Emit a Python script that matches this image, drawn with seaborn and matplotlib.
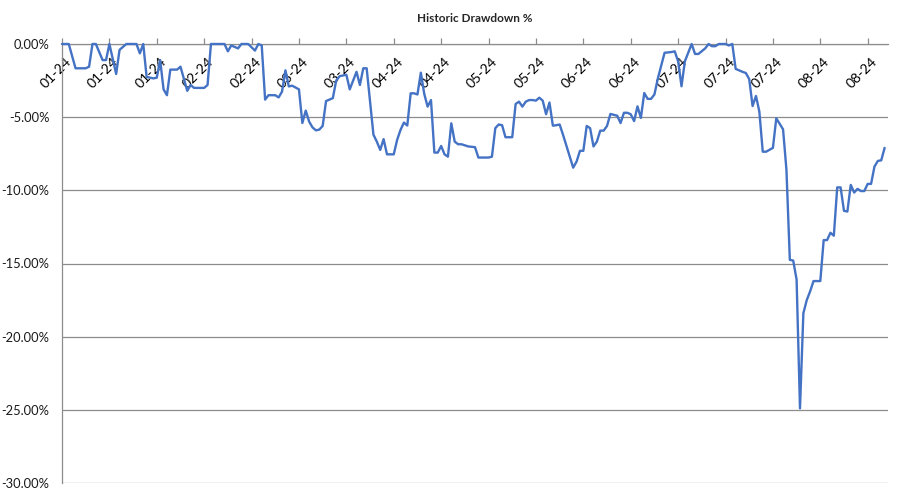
import pandas as pd
import numpy as np
import seaborn as sns
import matplotlib.pyplot as plt
import matplotlib.dates as mdates
from matplotlib.ticker import FuncFormatter, MultipleLocator
from matplotlib.transforms import ScaledTranslation

# days after 2024-01-01 where the drawdown line changes direction
day_offset = [0, 2, 4, 7, 8, 9, 10, 12, 13, 14, 16, 17, 19, 22, 23, 24, 25, 27, 28, 29,
              30, 31, 32, 34, 35, 37, 38, 39, 42, 43, 44, 48, 49, 50, 52, 53, 55, 57, 58, 59,
              60, 61, 63, 64, 65, 66, 67, 68, 70, 71, 72, 73, 74, 75, 76, 77, 78, 79, 80, 81,
              82, 84, 85, 87, 88, 89, 90, 92, 93, 94, 95, 96, 98, 99, 100, 101, 102, 103, 104, 105,
              106, 107, 108, 109, 110, 111, 112, 113, 114, 115, 116, 117, 118, 120, 122, 123, 126, 127, 128, 129,
              130, 131, 133, 134, 135, 136, 137, 138, 139, 140, 141, 142, 143, 144, 145, 146, 147, 148, 150, 151,
              152, 153, 154, 155, 156, 157, 158, 159, 160, 161, 162, 164, 165, 166, 167, 168, 169, 170, 171, 172,
              173, 174, 175, 176, 178, 180, 181, 182, 183, 184, 185, 186, 187, 188, 190, 191, 192, 193, 194, 196,
              197, 198, 199, 201, 202, 203, 204, 205, 206, 207, 208, 210, 211, 213, 214, 215, 216, 217, 218, 219,
              220, 221, 222, 224, 225, 226, 227, 228, 229, 230, 231, 232, 233, 234, 235, 236, 237, 238, 239, 240,
              241, 242, 243]

drawdown_pct = [0, 0, -1.66, -1.66, -1.55, 0, 0, -1.1, -1.1, 0, -2.05, -0.4, 0, 0, -0.64, 0, -2.25, -2.35, -2.3, -1.1,
                -3.1, -3.5, -1.75, -1.75, -1.55, -3.2, -2.8, -3.0, -3.0, -2.8, 0, 0, -0.5, -0.1, -0.3, 0, 0, -0.45, 0, -0.1,
                -3.8, -3.5, -3.5, -3.65, -3.25, -1.8, -2.9, -2.85, -3.1, -5.4, -4.55, -5.3, -5.7, -5.9, -5.85, -5.6, -3.9, -3.8, -3.7, -2.5,
                -2.2, -2.1, -3.1, -1.9, -2.8, -1.66, -1.66, -6.2, -6.67, -7.24, -6.5, -7.54, -7.54, -6.55, -5.87, -5.37, -5.57, -3.37, -3.37, -3.45,
                -1.96, -3.4, -4.28, -3.83, -7.42, -7.42, -6.97, -7.54, -7.7, -5.42, -6.67, -6.85, -6.85, -7.0, -7.05, -7.76, -7.76, -7.7, -5.75, -5.5,
                -5.55, -6.37, -6.37, -4.1, -3.94, -4.28, -3.94, -3.83, -3.83, -3.87, -3.67, -3.87, -4.8, -4.0, -5.58, -5.55, -5.5, -6.2, -7.7, -8.45,
                -8.04, -7.3, -7.3, -5.6, -5.75, -7.0, -6.67, -5.92, -5.92, -5.6, -4.78, -4.9, -5.4, -4.7, -4.7, -4.8, -5.27, -4.26, -5.05, -3.35,
                -3.75, -3.75, -3.45, -2.37, -0.6, -0.55, -0.5, -1.18, -2.89, -1.18, -0.6, 0, -0.68, -0.68, -0.3, 0, -0.15, -0.15, 0, 0,
                -0.1, 0, -1.7, -1.9, -1.98, -2.4, -4.24, -3.55, -4.62, -7.36, -7.36, -7.1, -5.08, -5.83, -8.6, -14.75, -14.8, -16.1, -24.9, -18.4,
                -17.5, -16.9, -16.2, -16.2, -13.4, -13.4, -12.9, -13.1, -9.8, -9.8, -11.4, -11.45, -9.63, -10.15, -9.9, -10.05, -10.05, -9.56, -9.56, -8.38,
                -7.99, -7.95, -7.1]

start = pd.Timestamp("2024-01-01")
df = pd.DataFrame({"date": start + pd.to_timedelta(day_offset, unit="D"),
                   "drawdown": drawdown_pct})

sns.set_style("white")
plt.rcParams["font.family"] = ["Lato", "DejaVu Sans"]

fig = plt.figure(figsize=(9.02, 4.93), dpi=100)
ax = fig.add_axes([62 / 902, 10 / 493, 826 / 902, 439 / 493])

grid_col = "#8c8c8c"
sns.lineplot(data=df, x="date", y="drawdown", ax=ax, color="#4472C4",
             linewidth=1.7, zorder=5, clip_on=False)

ax.set_ylim(-30, 0)
ax.yaxis.set_major_locator(MultipleLocator(5))
ax.yaxis.set_major_formatter(FuncFormatter(lambda v, p: "0.00%" if abs(v) < 1e-9 else f"{v:.2f}%"))
ax.grid(axis="y", color=grid_col, linewidth=0.9)
ax.set_axisbelow(True)

ax.set_xlim(start, start + pd.Timedelta(days=244))
ticks = [start + pd.Timedelta(days=14 * k) for k in range(18)]
ax.set_xticks(ticks)
ax.xaxis.set_major_formatter(mdates.DateFormatter("%m-%y"))
ax.xaxis.tick_top()
ax.tick_params(axis="x", direction="out", length=4, width=0.9, color=grid_col,
               pad=0, labelsize=10, labelcolor="#000000")
ax.tick_params(axis="y", direction="out", length=3, width=0.9, color=grid_col,
               labelsize=9.3, labelcolor="#1a1a1a", pad=6)

shift = ScaledTranslation(0.03, -0.17, fig.dpi_scale_trans)
for lbl in ax.get_xticklabels():
    lbl.set_rotation(45)
    lbl.set_rotation_mode("anchor")
    lbl.set_ha("right")
    lbl.set_va("top")
    lbl.set_transform(lbl.get_transform() + shift)

for side in ["right", "bottom"]:
    ax.spines[side].set_visible(False)
for side in ["left", "top"]:
    ax.spines[side].set_color(grid_col)
    ax.spines[side].set_linewidth(0.9)

ax.set_xlabel("")
ax.set_ylabel("")
fig.text(475 / 902, 1 - 18 / 493, "Historic Drawdown %", ha="center", va="center",
         fontsize=8.5, fontweight="bold")

fig.savefig("out.png", dpi=100)
